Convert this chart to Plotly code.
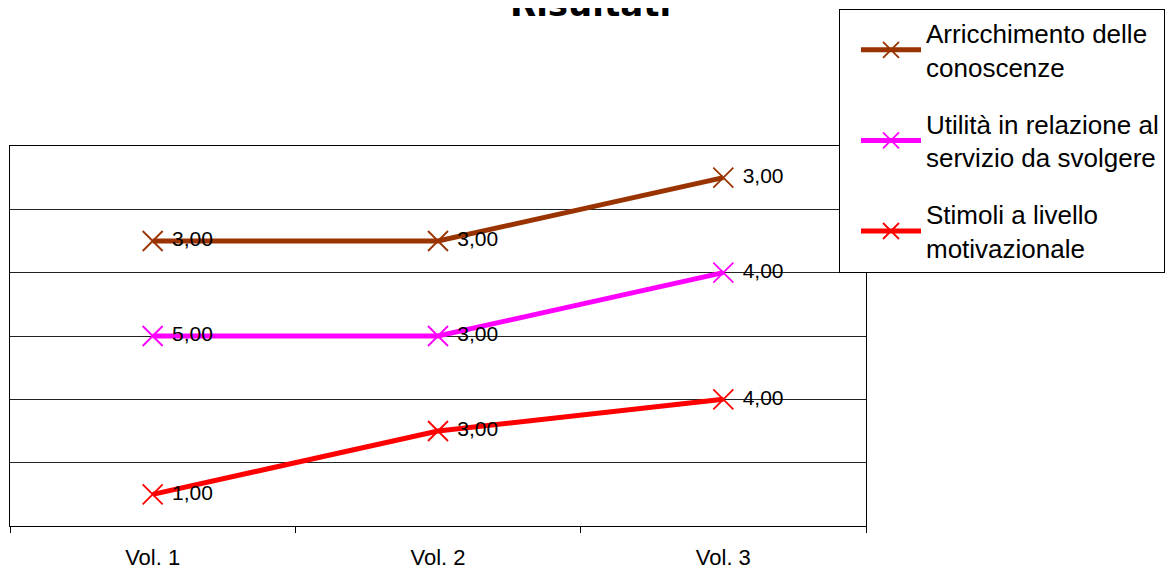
import plotly.graph_objects as go

categories = ["Vol. 1", "Vol. 2", "Vol. 3"]
series_names = [
    "Stimoli a livello<br>motivazionale",
    "Utilità in relazione al<br>servizio da svolgere",
    "Arricchimento delle<br>conoscenze",
]
stimoli = [1, 3, 4]
utilita = [5, 3, 4]
arricchimento = [3, 3, 3]
colors = ["#FF0000", "#FF00FF", "#993300"]
values = [stimoli, utilita, arricchimento]

# page body has an 8px default margin; compensate so screen coords match
OFF = 8
W, H = 1174, 570
L, R, T, B = 10 - OFF, 866 - OFF, 145 - OFF, 526 - OFF
PH = B - T
PW = R - L

fig = go.Figure()
for i, (name, vals, col) in enumerate(zip(series_names, values, colors)):
    fig.add_trace(go.Scatter(
        x=categories, y=vals, name=name, stackgroup="s", fill="none",
        mode="lines+markers+text",
        line=dict(color=col, width=5),
        marker=dict(symbol="x-thin", size=20, color=col, line=dict(color=col, width=1.8)),
        text=["\u00a0" + f"{v:.2f}".replace(".", ",") for v in vals],
        textposition="middle right",
        textfont=dict(family="Liberation Sans, Arial", size=21, color="black"),
        legendgroup=f"g{i}",
        legendrank=3 - i,
        hoverinfo="skip",
    ))

fig.update_layout(
    width=W, height=H,
    margin=dict(l=L, r=W - R, t=T, b=H - B, pad=0),
    paper_bgcolor="white", plot_bgcolor="white",
    showlegend=True,
    legend=dict(
        x=(831 - L) / PW, y=1 + (T - 0.5) / PH, xanchor="left", yanchor="top",
        bordercolor="black", borderwidth=1, bgcolor="white",
        font=dict(family="Liberation Sans, Arial", size=26, color="black"),
        traceorder="grouped", tracegroupgap=20, itemwidth=60, indentation=16,
    ),
    xaxis=dict(
        type="category", range=[-0.5, 2.5], tickson="boundaries",
        ticks="outside", ticklen=6, tickcolor="black",
        showline=True, linecolor="black", linewidth=1, mirror=True,
        showgrid=False, ticklabelstandoff=12,
        tickfont=dict(family="Liberation Sans, Arial", size=22, color="black"),
    ),
    yaxis=dict(
        range=[0, 12], dtick=2, showticklabels=False, ticks="",
        showgrid=True, gridcolor="#222", gridwidth=1,
        showline=True, linecolor="black", linewidth=1, mirror=True,
        zeroline=False,
    ),
    font=dict(family="Liberation Sans, Arial"),
)

fig.add_annotation(
    text="<b>Risultati</b>", xref="paper", yref="paper",
    x=(582 - L) / PW, y=1 + (T - 17) / PH, xanchor="center", yanchor="bottom",
    showarrow=False,
    font=dict(family="DejaVu Sans", size=34, color="black"),
)

fig.write_html("out.html")
